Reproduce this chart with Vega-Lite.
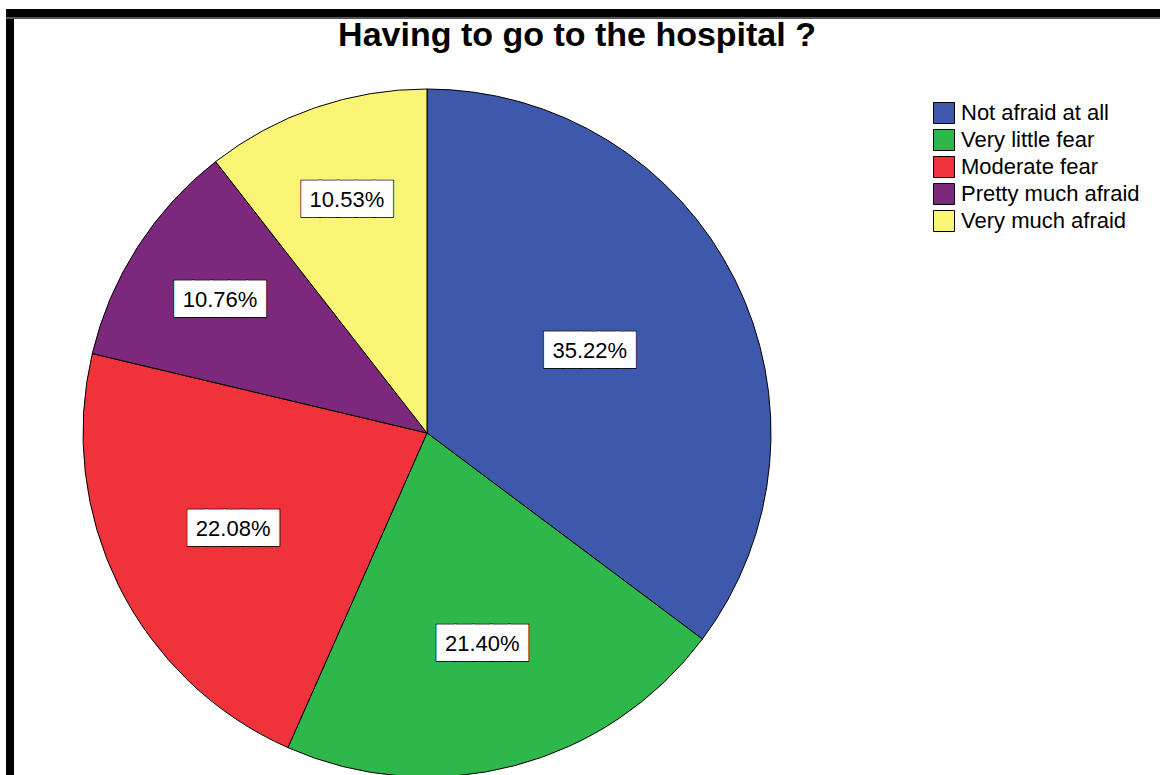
{
  "$schema": "https://vega.github.io/schema/vega-lite/v6.json",
  "background": "white",
  "padding": {"left": 6, "top": 7, "right": 0, "bottom": 0},
  "config": {"view": {"stroke": null}, "font": "Liberation Sans"},
  "datasets": {
    "pie": [
      {"ord": 1, "cat": "Not afraid at all", "pct": 35.22, "lbl": "35.22%"},
      {"ord": 2, "cat": "Very little fear", "pct": 21.40, "lbl": "21.40%"},
      {"ord": 3, "cat": "Moderate fear", "pct": 22.08, "lbl": "22.08%"},
      {"ord": 4, "cat": "Pretty much afraid", "pct": 10.76, "lbl": "10.76%"},
      {"ord": 5, "cat": "Very much afraid", "pct": 10.53, "lbl": "10.53%"}
    ]
  },
  "spacing": 0,
  "bounds": "flush",
  "vconcat": [
    {
      "width": 1154, "height": 8,
      "view": {"fill": "black", "stroke": null},
      "data": {"values": [{"a": 1}]},
      "mark": {"type": "text", "text": ""}
    },
    {
      "spacing": 0,
      "bounds": "flush",
      "hconcat": [
        {
          "width": 8, "height": 758,
          "view": {"fill": "black", "stroke": null},
          "data": {"values": [{"a": 1}]},
          "mark": {"type": "text", "text": ""}
        },
        {
          "spacing": 0,
          "bounds": "flush",
          "vconcat": [
            {
              "width": 1146, "height": 74,
              "data": {"values": [{"t": "Having to go to the hospital ?"}]},
              "mark": {"type": "text", "font": "Liberation Sans", "fontSize": 34, "fontWeight": "bold", "align": "center", "baseline": "alphabetic", "dx": -10, "dy": -8, "color": "black"},
              "encoding": {"text": {"field": "t", "type": "nominal"}}
            },
            {
              "width": 826, "height": 684,
              "data": {"name": "pie"},
              "encoding": {
                "theta": {"field": "pct", "type": "quantitative", "stack": true},
                "order": {"field": "ord", "type": "quantitative"}
              },
              "layer": [
                {
                  "mark": {"type": "arc", "outerRadius": 344, "stroke": "black", "strokeWidth": 1},
                  "encoding": {
                    "color": {
                      "field": "cat", "type": "nominal",
                      "scale": {
                        "domain": ["Not afraid at all", "Very little fear", "Moderate fear", "Pretty much afraid", "Very much afraid"],
                        "range": ["#3E58AB", "#2EB84B", "#F0323A", "#7B287D", "#FAF575"]
                      },
                      "legend": {
                        "orient": "none", "legendX": 927, "legendY": 93, "title": null,
                        "symbolType": "square", "symbolSize": 441, "symbolStrokeColor": "black", "symbolStrokeWidth": 1, "symbolOpacity": 1,
                        "labelFont": "Liberation Sans", "labelFontSize": 22, "labelColor": "black", "labelOffset": 6, "rowPadding": 1, "labelLimit": 400
                      }
                    }
                  }
                },
                {
                  "mark": {"type": "text", "text": "█████", "font": "DejaVu Sans Mono", "fontSize": 30, "fill": "black", "stroke": "black", "strokeWidth": 2.5, "align": "center", "baseline": "middle"},
                  "encoding": {"radius": {"field": "pct", "type": "quantitative", "scale": {"type": "linear", "zero": false, "domain": [10, 36], "range": [248, 180]}}}
                },
                {
                  "mark": {"type": "text", "text": "█████", "font": "DejaVu Sans Mono", "fontSize": 30, "fill": "white", "stroke": "white", "strokeWidth": 1, "align": "center", "baseline": "middle"},
                  "encoding": {"radius": {"field": "pct", "type": "quantitative", "scale": {"type": "linear", "zero": false, "domain": [10, 36], "range": [248, 180]}}}
                },
                {
                  "mark": {"type": "text", "font": "Liberation Sans", "fontSize": 22, "fill": "black", "align": "center", "baseline": "middle"},
                  "encoding": {
                    "radius": {"field": "pct", "type": "quantitative", "scale": {"type": "linear", "zero": false, "domain": [10, 36], "range": [248, 180]}},
                    "text": {"field": "lbl", "type": "nominal"}
                  }
                }
              ]
            }
          ]
        }
      ]
    },
    {
      "width": 1154, "height": 2,
      "view": {"fill": "#555555", "stroke": null},
      "data": {"values": [{"a": 1}]},
      "mark": {"type": "text", "text": ""}
    }
  ]
}
